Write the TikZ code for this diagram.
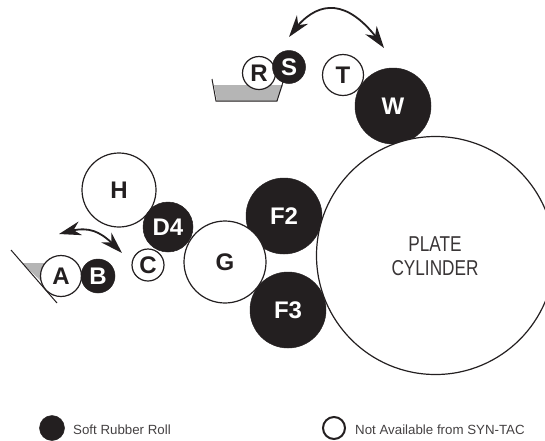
\documentclass[tikz,border=0pt]{standalone}
\usepackage{fontspec}
\setmainfont{Liberation Sans}
\usetikzlibrary{arrows.meta,bending}
\definecolor{ink}{HTML}{231F20}
\definecolor{pan}{HTML}{B5B5B5}
\tikzset{
 roll/.style={circle,draw=ink,line width=1.2pt,fill=white,minimum size=#1,inner sep=0pt,text=ink,font=\fontsize{24}{24}\selectfont\bfseries},
 softroll/.style={circle,draw=ink,fill=ink,line width=.5pt,minimum size=#1,inner sep=0pt,text=white,font=\fontsize{24}{24}\selectfont\bfseries},
 swing/.style={ink,line width=1.8pt,{Stealth[length=22pt,width=14pt,inset=7pt]}-{Stealth[length=22pt,width=14pt,inset=7pt]}},
 legendtext/.style={text=ink!85,font=\fontsize{13.3}{15}\selectfont,anchor=west,inner sep=0pt}
}
\begin{document}
\begin{tikzpicture}[x=1pt,y=-1pt]
\useasboundingbox (0,0) rectangle (545,440);
\begin{scope}
\clip (0,0) rectangle (545,440);
% pans
\fill[pan] (214,85) -- (283,85) -- (277,101) -- (217,101) -- cycle;
\fill[pan] (22,263) -- (46,263) -- (42,282) -- cycle;
\draw[ink,line width=1pt] (212,79) -- (216,101) -- (277,101) -- (283,82);
\draw[ink,line width=1pt] (11,250) -- (57,303);
% rolls
\node[softroll=76pt] (F2) at (284,216) {F2};
\node[softroll=76pt] (F3) at (288,310) {F3};
\node[softroll=76pt] (W) at (393,106) {W};
\node[roll=238pt] (plate) at (435.5,255.5) {};
\node[font=\fontsize{21.5}{24}\selectfont,text=ink!90,align=center] (platelabel) at (435,256) {\scalebox{.8}[1]{PLATE}\\\scalebox{.8}[1]{CYLINDER}};
\node[roll=74pt] (H) at (119,190) {H};
\node[roll=82pt] (G) at (225,262) {G};
\node[softroll=50pt] (D4) at (168,227) {D4};
\node[roll=32pt] (C) at (148,265) {C};
\node[roll=41pt] (A) at (61,276) {A};
\node[softroll=34pt] (B) at (98,276) {B};
\node[roll=41pt] (T) at (343,75) {T};
\node[roll=33pt,path picture={\fill[pan] (214,85) rectangle (300,101);}] (R) at (259,73) {R};
\node[softroll=33pt] (S) at (289,67) {S};
\end{scope}
% arrows
\coordinate (a1) at (59,234);
\coordinate (a2) at (122,253);
\coordinate (b1) at (289,37);
\coordinate (b2) at (384,48);
\draw[swing] (a1) .. controls (90,224) and (100,230) .. (a2);
\draw[swing] (b1) .. controls (316,-3) and (349,-4) .. (b2);
% legend
\node[softroll=25pt] (lblack) at (52,428) {};
\node[legendtext] (ltext1) at (73,430) {Soft Rubber Roll};
\node[roll=22pt,line width=2pt] (lwhite) at (334,428) {};
\node[legendtext] (ltext2) at (355,430) {Not Available from SYN-TAC};
\end{tikzpicture}
\end{document}
